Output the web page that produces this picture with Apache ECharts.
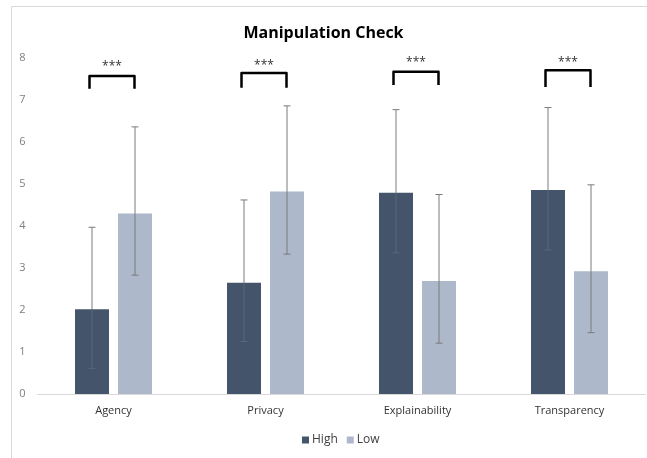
<!DOCTYPE html>
<html>
<head>
<meta charset="utf-8">
<script src="https://cdn.jsdelivr.net/npm/echarts@6/dist/echarts.min.js"></script>
<style>
html,body{margin:0;padding:0;background:#fff;}
#chart{width:647px;height:458px;}
</style>
</head>
<body>
<div id="chart"></div>
<script>
const categories = ['Agency', 'Privacy', 'Explainability', 'Transparency'];
const seriesNames = ['High', 'Low'];
const highValues = [2.02, 2.65, 4.79, 4.86];
const lowValues = [4.30, 4.82, 2.69, 2.92];
// error bar ends (upper, lower)
const highErrUpper = [3.97, 4.62, 6.77, 6.82];
const highErrLower = [0.61, 1.25, 3.36, 3.43];
const lowErrUpper = [6.36, 6.86, 4.75, 4.98];
const lowErrLower = [2.83, 3.33, 1.21, 1.46];
// significance brackets: top of bracket, bottom of legs, star label level
const bracketTop = [7.57, 7.64, 7.67, 7.71];
const bracketBottom = [7.27, 7.29, 7.36, 7.31];
const starLevel = [7.79, 7.83, 7.88, 7.88];
const starLabels = ['***', '***', '***', '***'];
const yTicks = [0, 1, 2, 3, 4, 5, 6, 7, 8];

const FONT = '"Open Sans", sans-serif';
const colHigh = '#44546a';
const colLow = '#adb9ca';
const BAR_W = 34, BAR_GAP = 9;
const OFF = (BAR_W + BAR_GAP) / 2;

function errSeries(values, upper, lower, sign, innerColor) {
  return {
    type: 'custom',
    silent: true,
    z: 5,
    data: categories.map((c, i) => [i, upper[i], lower[i], values[i]]),
    encode: { x: 0, y: [1, 2, 3] },
    renderItem: function (params, api) {
      const i = api.value(0);
      const top = api.coord([i, api.value(1)]);
      const bot = api.coord([i, api.value(2)]);
      const mid = api.coord([i, api.value(3)]);
      const x = top[0] + sign * OFF;
      const cap = 3.5;
      const st = { stroke: '#7a7a7a', lineWidth: 1 };
      const stIn = { stroke: innerColor, lineWidth: 1 };
      return {
        type: 'group',
        children: [
          { type: 'line', shape: { x1: x, y1: top[1], x2: x, y2: mid[1] }, style: st },
          { type: 'line', shape: { x1: x, y1: mid[1], x2: x, y2: bot[1] }, style: stIn },
          { type: 'line', shape: { x1: x - cap, y1: top[1], x2: x + cap, y2: top[1] }, style: st },
          { type: 'line', shape: { x1: x - cap, y1: bot[1], x2: x + cap, y2: bot[1] }, style: stIn }
        ]
      };
    }
  };
}

const bracketSeries = {
  type: 'custom',
  silent: true,
  z: 6,
  data: categories.map((c, i) => [i, bracketTop[i], bracketBottom[i], starLevel[i]]),
  encode: { x: 0, y: [1, 2, 3] },
  renderItem: function (params, api) {
    const i = api.value(0);
    const t = api.coord([i, api.value(1)]);
    const b = api.coord([i, api.value(2)]);
    const s = api.coord([i, api.value(3)]);
    const xl = t[0] - 24, xr = t[0] + 21;
    return {
      type: 'group',
      children: [
        {
          type: 'polyline',
          shape: { points: [[xl, b[1]], [xl, t[1]], [xr, t[1]], [xr, b[1]]] },
          style: { stroke: '#000', lineWidth: 2.5, fill: null, lineJoin: 'round' }
        },
        {
          type: 'text',
          style: {
            text: starLabels[params.dataIndex],
            x: (xl + xr) / 2, y: s[1],
            align: 'center', verticalAlign: 'middle',
            font: '12px ' + FONT, fill: '#333'
          }
        }
      ]
    };
  }
};

const chart = echarts.init(document.getElementById('chart'), null, { renderer: 'canvas' });
chart.setOption({
  backgroundColor: '#fff',
  animation: false,
  graphic: [{
    type: 'rect', silent: true, z: -10,
    shape: { x: 11.5, y: 6.5, width: 700, height: 500 },
    style: { fill: 'none', stroke: '#d9d9d9', lineWidth: 1 }
  }],
  title: {
    text: 'Manipulation Check',
    left: 'center',
    top: 20,
    textStyle: { fontFamily: FONT, fontSize: 16, fontWeight: 'bold', color: '#000' }
  },
  legend: {
    data: seriesNames,
    top: 429,
    left: 297,
    icon: 'rect',
    itemWidth: 7,
    itemHeight: 7,
    itemGap: 9,
    textStyle: { fontFamily: FONT, fontSize: 12, color: '#404040', padding: [0, 0, 0, -2] }
  },
  grid: { left: 37.5, right: 1.5, top: 58, bottom: 64 },
  xAxis: {
    type: 'category',
    data: categories,
    axisLine: { lineStyle: { color: '#d9d9d9', width: 1 } },
    axisTick: { show: false },
    axisLabel: { fontFamily: FONT, fontSize: 11, color: '#333', margin: 11 }
  },
  yAxis: {
    type: 'value',
    min: yTicks[0],
    max: yTicks[yTicks.length - 1],
    interval: 1,
    axisLine: { show: false },
    axisTick: { show: false },
    splitLine: { show: false },
    axisLabel: { fontFamily: FONT, fontSize: 11, color: '#7f7f7f', margin: 12 }
  },
  series: [
    {
      name: seriesNames[0], type: 'bar', data: highValues,
      barWidth: BAR_W, barGap: (BAR_GAP / BAR_W * 100) + '%',
      itemStyle: { color: colHigh }
    },
    {
      name: seriesNames[1], type: 'bar', data: lowValues,
      barWidth: BAR_W,
      itemStyle: { color: colLow }
    },
    errSeries(highValues, highErrUpper, highErrLower, -1, '#5c6676'),
    errSeries(lowValues, lowErrUpper, lowErrLower, 1, '#7a7a7a'),
    bracketSeries
  ]
});
</script>
</body>
</html>
